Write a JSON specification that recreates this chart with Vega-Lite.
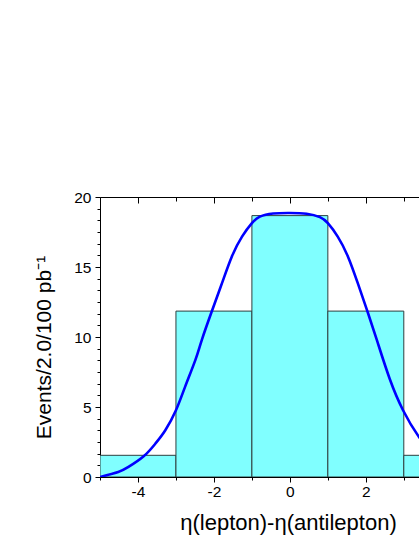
{
  "$schema": "https://vega.github.io/schema/vega-lite/v6.json",
  "autosize": "none",
  "width": 319,
  "height": 280,
  "padding": {"left": 100, "top": 197, "right": 0, "bottom": 65},
  "background": "white",
  "config": {
    "view": {"stroke": null},
    "axis": {
      "grid": false,
      "domainColor": "black",
      "domainWidth": 1,
      "tickColor": "black",
      "tickWidth": 1,
      "labelColor": "black",
      "labelFont": "Liberation Sans",
      "labelFontSize": 15.5,
      "titleFont": "Liberation Sans",
      "titleFontWeight": "normal",
      "titleColor": "black",
      "labelOverlap": false,
      "labelFlush": false
    }
  },
  "datasets": {
    "bins": [
      {"lo": -5, "hi": -3, "events": 1.55},
      {"lo": -3, "hi": -1, "events": 11.85},
      {"lo": -1, "hi": 1, "events": 18.67},
      {"lo": 1, "hi": 3, "events": 11.85},
      {"lo": 3, "hi": 5, "events": 1.55}
    ],
    "fit": [
      {"x": -5.0, "y": 0.0},
      {"x": -4.52, "y": 0.36},
      {"x": -4.25, "y": 0.72},
      {"x": -3.85, "y": 1.48},
      {"x": -3.54, "y": 2.39},
      {"x": -3.28, "y": 3.34},
      {"x": -3.0, "y": 4.77},
      {"x": -2.76, "y": 6.44},
      {"x": -2.49, "y": 8.35},
      {"x": -2.32, "y": 9.78},
      {"x": -2.06, "y": 11.8},
      {"x": -1.79, "y": 13.83},
      {"x": -1.53, "y": 15.74},
      {"x": -1.26, "y": 17.17},
      {"x": -1.0, "y": 18.13},
      {"x": -0.79, "y": 18.6},
      {"x": -0.44, "y": 18.82},
      {"x": 0.0, "y": 18.86},
      {"x": 0.44, "y": 18.8},
      {"x": 0.79, "y": 18.56},
      {"x": 1.0, "y": 18.13},
      {"x": 1.26, "y": 17.17},
      {"x": 1.53, "y": 15.74},
      {"x": 1.79, "y": 13.83},
      {"x": 2.04, "y": 11.85},
      {"x": 2.3, "y": 9.7},
      {"x": 2.63, "y": 7.0},
      {"x": 2.98, "y": 4.77},
      {"x": 3.4, "y": 2.86},
      {"x": 3.85, "y": 1.48},
      {"x": 4.25, "y": 0.72},
      {"x": 4.52, "y": 0.36},
      {"x": 5.0, "y": 0.0}
    ]
  },
  "layer": [
    {
      "data": {"name": "bins"},
      "mark": {"type": "rect", "fill": "#80FFFF", "stroke": "#2f3f3f", "strokeWidth": 1, "clip": true},
      "encoding": {
        "x": {
          "field": "lo", "type": "quantitative",
          "scale": {"domain": [-5, 3.4], "nice": false, "zero": false},
          "axis": {
            "orient": "bottom",
            "values": [-5, -4, -3, -2, -1, 0, 1, 2, 3],
            "tickSize": {"condition": {"test": "datum.value % 2 === 0", "value": 5}, "value": 3},
            "labelExpr": "datum.value % 2 === 0 ? '' + datum.value : ''",
            "labelPadding": 2,
            "title": "η(lepton)-η(antilepton)",
            "titleFontSize": 22,
            "titleX": 188,
            "titleY": 52,
            "titleAlign": "center",
            "titleBaseline": "alphabetic"
          }
        },
        "x2": {"field": "hi"},
        "y": {
          "field": "events", "type": "quantitative",
          "scale": {"domain": [0, 20], "nice": false},
          "axis": {
            "orient": "left",
            "values": [0, 0.8333, 1.6667, 2.5, 3.3333, 4.1667, 5, 5.8333, 6.6667, 7.5, 8.3333, 9.1667, 10, 10.8333, 11.6667, 12.5, 13.3333, 14.1667, 15, 15.8333, 16.6667, 17.5, 18.3333, 19.1667, 20],
            "tickSize": {"condition": {"test": "datum.value % 5 === 0", "value": 5}, "value": 3},
            "labelExpr": "datum.value % 5 === 0 ? '' + datum.value : ''",
            "labelPadding": 4,
            "title": "Events/2.0/100 pb⁻¹",
            "titleFontSize": 21,
            "titleX": -50,
            "titleY": 150,
            "titleAlign": "center",
            "titleBaseline": "alphabetic",
            "titleAngle": 270
          }
        },
        "y2": {"datum": 0}
      }
    },
    {
      "data": {"name": "fit"},
      "mark": {"type": "line", "color": "#0000FF", "strokeWidth": 2.6, "interpolate": "natural", "clip": true},
      "encoding": {
        "x": {
          "field": "x", "type": "quantitative",
          "axis": {
            "orient": "top",
            "values": [-5, -4, -3, -2, -1, 0, 1, 2, 3],
            "tickSize": {"condition": {"test": "datum.value % 2 === 0", "value": -6}, "value": -4},
            "labels": false,
            "title": null
          }
        },
        "y": {"field": "y", "type": "quantitative", "axis": null}
      }
    }
  ],
  "resolve": {"axis": {"x": "independent", "y": "independent"}}
}
